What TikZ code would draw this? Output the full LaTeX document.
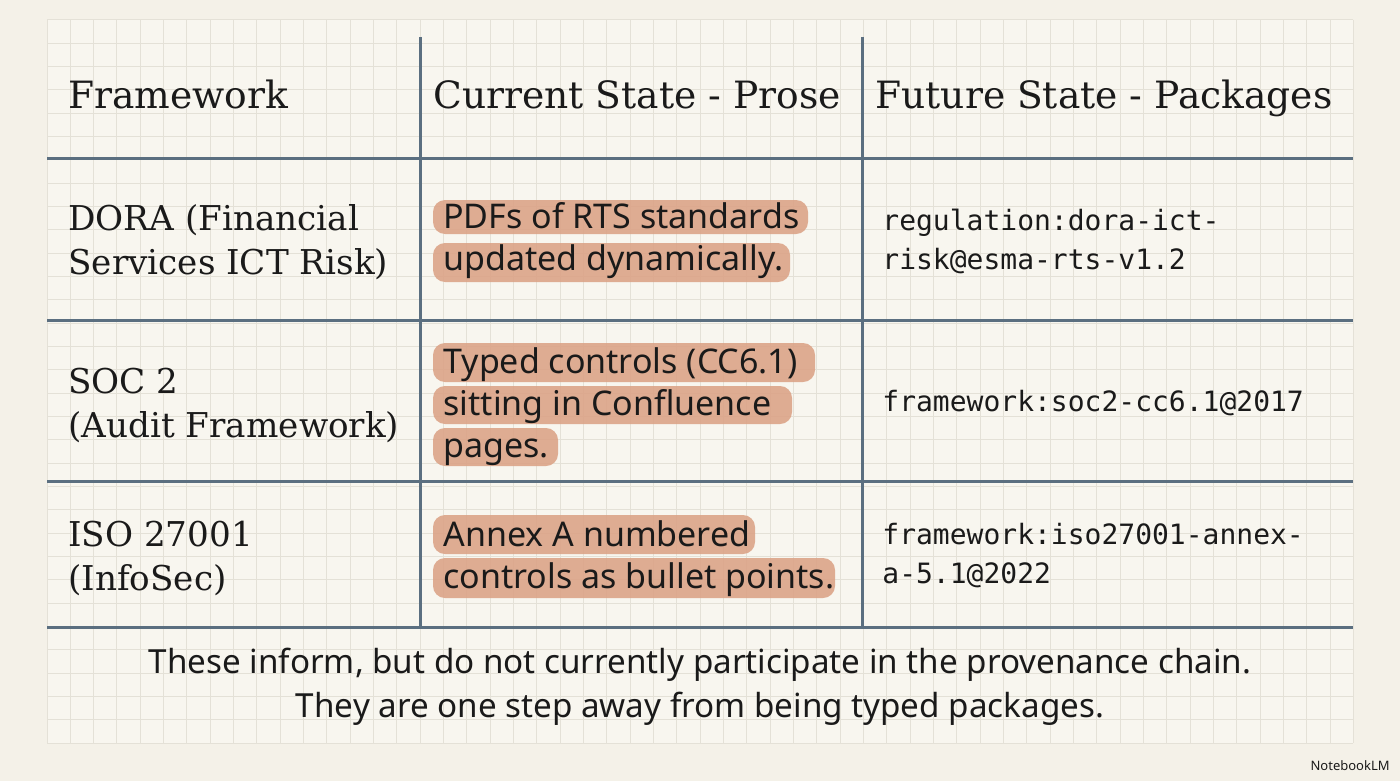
\documentclass[tikz,border=0pt]{standalone}
\usepackage{fontspec}
\setmainfont{DejaVu Serif}
\newfontfamily\bodysans{Noto Sans}
\newfontfamily\codemono{DejaVu Sans Mono}
\definecolor{bgc}{HTML}{F4F1E8}
\definecolor{paper}{HTML}{F8F6EF}
\definecolor{gridc}{HTML}{E4E1D7}
\definecolor{rulec}{HTML}{5B6F80}
\definecolor{hl}{HTML}{DCA488}
\definecolor{ink}{HTML}{1A1A1A}
\tikzset{
  head/.style={anchor=base west, inner sep=0, font=\fontsize{18.8}{22}\selectfont, text=ink},
  lcol/.style={anchor=base west, inner sep=0, font=\fontsize{17.1}{21}\selectfont, text=ink},
  mcol/.style={anchor=base west, inner sep=0, font=\bodysans\fontsize{17}{21}\selectfont, text=ink},
  rcol/.style={anchor=base west, inner sep=0, font=\codemono\fontsize{14}{17}\selectfont, text=ink},
  foot/.style={anchor=base, inner sep=0, font=\bodysans\fontsize{16.6}{20}\selectfont, text=ink},
  rule/.style={draw=rulec, line width=1.5pt},
  hlmark/.style={fill=hl, rounded corners=6pt, opacity=0.9},
  gridline/.style={draw=gridc, line width=0.5pt},
}
\begin{document}
\begin{tikzpicture}[x=0.5pt,y=-0.5pt]
\fill[bgc] (0,0) rectangle (1400,781);
\useasboundingbox (0,0) rectangle (1400,781);
\fill[paper] (47,20) rectangle (1353,743);
\foreach \i in {0,...,56} { \draw[gridline] (47+23.33*\i,20) -- (47+23.33*\i,743); }
\foreach \j in {0,...,31} { \draw[gridline] (47,20+23.33*\j) -- (1353,20+23.33*\j); }
% highlights
\fill[hlmark] (433,200) rectangle (808,234);
\fill[hlmark] (433,243) rectangle (790,282);
\fill[hlmark] (433,343) rectangle (815,382);
\fill[hlmark] (433,386) rectangle (792,424);
\fill[hlmark] (433,428) rectangle (558,466);
\fill[hlmark] (433,515) rectangle (755,554);
\fill[hlmark] (433,558) rectangle (835,598);
% rules
\coordinate (h1l) at (47,158); \coordinate (h1r) at (1353,158);
\coordinate (h2l) at (47,320); \coordinate (h2r) at (1353,320);
\coordinate (h3l) at (47,481); \coordinate (h3r) at (1353,481);
\coordinate (h4l) at (47,627); \coordinate (h4r) at (1353,627);
\coordinate (v1t) at (420,37); \coordinate (v1b) at (420,627);
\coordinate (v2t) at (862,37); \coordinate (v2b) at (862,627);
\draw[rule] (h1l)--(h1r); \draw[rule] (h2l)--(h2r);
\draw[rule] (h3l)--(h3r); \draw[rule] (h4l)--(h4r);
\draw[rule] (v1t)--(v1b); \draw[rule] (v2t)--(v2b);
% headers
\node[head] (hA) at (68,108) {Framework};
\node[head] (hB) at (433,108) {Current State - Prose};
\node[head] (hC) at (875,108) {Future State - Packages};
% left column
\node[lcol] (a1) at (68,230) {DORA (Financial};
\node[lcol] (a2) at (68,274) {Services ICT Risk)};
\node[lcol] (b1) at (68,393) {SOC 2};
\node[lcol] (b2) at (68,437) {(Audit Framework)};
\node[lcol] (c1) at (68,546) {ISO 27001};
\node[lcol] (c2) at (68,590) {(InfoSec)};
% middle column
\node[mcol] (m1) at (443,228) {PDFs of RTS standards};
\node[mcol] (m2) at (443,270) {updated dynamically.};
\node[mcol] (m3) at (443,373) {Typed controls (CC6.1)};
\node[mcol] (m4) at (443,415) {sitting in Confluence};
\node[mcol] (m5) at (443,457) {pages.};
\node[mcol] (m6) at (443,546) {Annex A numbered};
\node[mcol] (m7) at (443,588) {controls as bullet points.};
% right column
\node[rcol] (r1) at (882,230) {regulation:dora-ict-};
\node[rcol] (r2) at (882,269) {risk@esma-rts-v1.2};
\node[rcol] (r3) at (882,411) {framework:soc2-cc6.1@2017};
\node[rcol] (r4) at (882,544) {framework:iso27001-annex-};
\node[rcol] (r5) at (882,583) {a-5.1@2022};
% footer
\node[foot] (f1) at (700,673) {These inform, but do not currently participate in the provenance chain.};
\node[foot] (f2) at (700,717) {They are one step away from being typed packages.};
\node[anchor=base east, inner sep=0, font=\bodysans\bfseries\fontsize{6.5}{8}\selectfont, text=ink] (logo) at (1390,770) {NotebookLM};
\end{tikzpicture}
\end{document}
